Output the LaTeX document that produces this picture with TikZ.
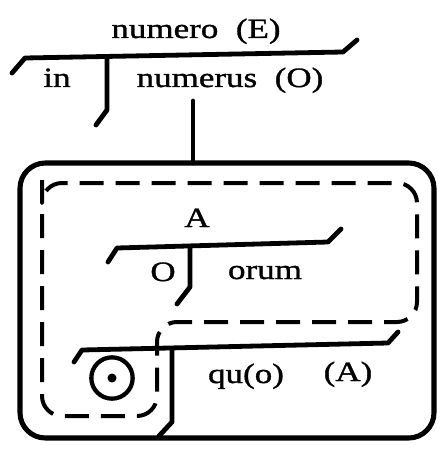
\documentclass[tikz,border=0pt]{standalone}
\usepackage{fontspec}
\setmainfont{Liberation Serif}[FakeStretch=1.25,FakeBold=1.2]
\begin{document}
\begin{tikzpicture}[x=0.75pt,y=-0.75pt,
  line join=round,line cap=round,
  diag/.style={line width=3.6pt},
  frame/.style={line width=3.8pt,rounded corners=19pt},
  dashbox/.style={line width=3pt,dashed,dash pattern=on 18pt off 9pt,rounded corners=15pt,line cap=butt},
  word/.style={font=\fontsize{21}{24}\selectfont,inner sep=0pt,anchor=base}]
\useasboundingbox (0,0) rectangle (444,452);
\fill[white] (0,0) rectangle (444,452);

% top diagram
\coordinate (t1) at (12,73);
\coordinate (t2) at (25,58);
\coordinate (t3) at (343,52);
\coordinate (t4) at (357,40);
\coordinate (v1) at (107,57);
\coordinate (v2) at (107,110);
\coordinate (v3) at (96,125);
\draw[diag] (t1) -- (t2) -- (t3) -- (t4);
\draw[diag] (v1) -- (v2) -- (v3);
\node[word] (numero) at (196,38) {numero\ \ (E)};
\node[word] (in) at (57,87) {in};
\node[word] (numerus) at (230,87) {numerus\ \ (O)};

% connector to frame
\coordinate (c1) at (193,101);
\coordinate (c2) at (193,163);
\draw[diag] (c1) -- (c2);

% outer frame
\draw[frame] (20,163) rectangle (434,438);

% dashed L-shaped region
\draw[dashbox] (42,200) -- (42,183) -- (417,183) -- (417,322) -- (157,322) -- (157,416) -- (42,416) -- cycle;

% inner diagram
\coordinate (i1) at (108,262);
\coordinate (i2) at (117,248);
\coordinate (i3) at (328,242);
\coordinate (i4) at (341,229);
\coordinate (iv1) at (190,247);
\coordinate (iv2) at (190,287);
\coordinate (iv3) at (177,304);
\draw[diag] (i1) -- (i2) -- (i3) -- (i4);
\draw[diag] (iv1) -- (iv2) -- (iv3);
\node[word] (A) at (197,227) {A};
\node[word] (O) at (163,281) {O};
\node[word] (orum) at (265,279) {orum};

% bottom diagram
\coordinate (b1) at (74,362);
\coordinate (b2) at (82,350);
\coordinate (b3) at (388,343);
\coordinate (b4) at (398,332);
\coordinate (bv1) at (172,350);
\coordinate (bv2) at (172,422);
\coordinate (bv3) at (159,436);
\draw[diag] (b1) -- (b2) -- (b3) -- (b4);
\draw[diag] (bv1) -- (bv2) -- (bv3);
\node[draw,circle,line width=3.2pt,minimum size=31pt,inner sep=0pt] (target) at (112,378) {};
\fill (target.center) circle (3.4pt);
\node[word] (quo) at (246,383) {qu(o)};
\node[word] (Apar) at (348,381) {(A)};
\end{tikzpicture}
\end{document}
